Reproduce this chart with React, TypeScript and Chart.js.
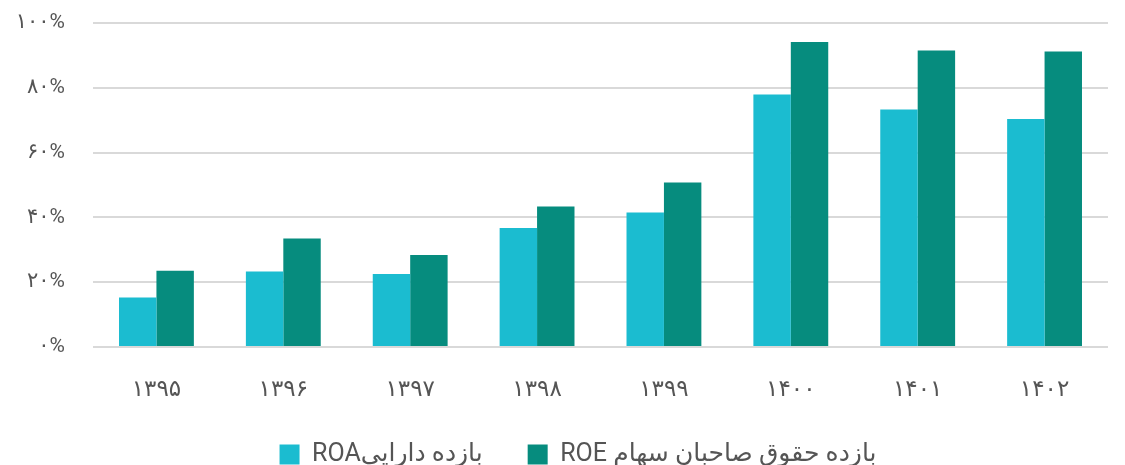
import React, { useEffect, useRef } from "react";
import { Chart, registerables } from "chart.js";

Chart.register(...registerables);

const categories = ["۱۳۹۵", "۱۳۹۶", "۱۳۹۷", "۱۳۹۸", "۱۳۹۹", "۱۴۰۰", "۱۴۰۱", "۱۴۰۲"];
const roaLabel = "ROAبازده دارایی";
const roeLabel = "ROE بازده حقوق صاحبان سهام";
const roaValues = [15.3, 23.3, 22.5, 36.7, 41.5, 77.9, 73.3, 70.4];
const roeValues = [23.5, 33.5, 28.4, 43.4, 50.8, 94.1, 91.5, 91.2];
const yTickLabels: Record<number, string> = {
  0: "۰%",
  20: "۲۰%",
  40: "۴۰%",
  60: "۶۰%",
  80: "۸۰%",
  100: "۱۰۰%",
};

const FONT = "Roboto, 'DejaVu Sans', sans-serif";

const legendHeightPlugin = {
  id: "legendHeight",
  beforeLayout(chart: any) {
    const legend = chart.legend;
    if (legend && !legend.__patched) {
      const orig = legend.fit.bind(legend);
      legend.fit = function () {
        orig();
        this.height = 68;
      };
      legend.__patched = true;
    }
  },
  afterLayout(chart: any) {
    const legend = chart.legend;
    if (legend) {
      legend.left += 24;
      legend.right += 24;
    }
  },
};

export default function App() {
  const ref = useRef<HTMLCanvasElement | null>(null);

  useEffect(() => {
    document.body.style.margin = "0";
    const canvas = ref.current;
    if (!canvas) return;
    const chart = new Chart(canvas, {
      type: "bar",
      data: {
        labels: categories,
        datasets: [
          {
            label: roaLabel,
            data: roaValues,
            backgroundColor: "#1BBCD0",
            categoryPercentage: 0.59,
            barPercentage: 1,
          },
          {
            label: roeLabel,
            data: roeValues,
            backgroundColor: "#068C7E",
            categoryPercentage: 0.59,
            barPercentage: 1,
          },
        ],
      },
      options: {
        animation: false,
        responsive: false,
        maintainAspectRatio: false,
        layout: { padding: { top: 23, right: 17, left: 0, bottom: 0 } },
        plugins: {
          tooltip: { enabled: false },
          legend: {
            position: "bottom",
            labels: {
              boxWidth: 20,
              boxHeight: 20,
              padding: 45,
              color: "#555555",
              font: { family: FONT, size: 25 },
            },
          },
        },
        scales: {
          x: {
            grid: { display: false, drawTicks: false },
            border: { display: false },
            ticks: {
              color: "#555555",
              padding: 29,
              font: { family: FONT, size: 23 },
            },
            afterFit: (scale: any) => {
              scale.height = 50;
            },
          },
          y: {
            min: 0,
            max: 100,
            border: { display: false },
            grid: { color: "#d9d9d9", lineWidth: 2, drawTicks: false },
            ticks: {
              stepSize: 20,
              padding: 28,
              color: "#555555",
              font: { family: FONT, size: 21 },
              callback: (v: any) => yTickLabels[Number(v)] ?? "",
            },
            afterFit: (scale: any) => {
              scale.width = 93;
              scale.paddingTop = 0;
              scale.paddingBottom = 0;
            },
          },
        },
      },
      plugins: [legendHeightPlugin],
    });
    return () => chart.destroy();
  }, []);

  return (
    <div style={{ width: 1125, height: 465 }}>
      <canvas ref={ref} width={1125} height={465} style={{ display: "block" }} />
    </div>
  );
}
